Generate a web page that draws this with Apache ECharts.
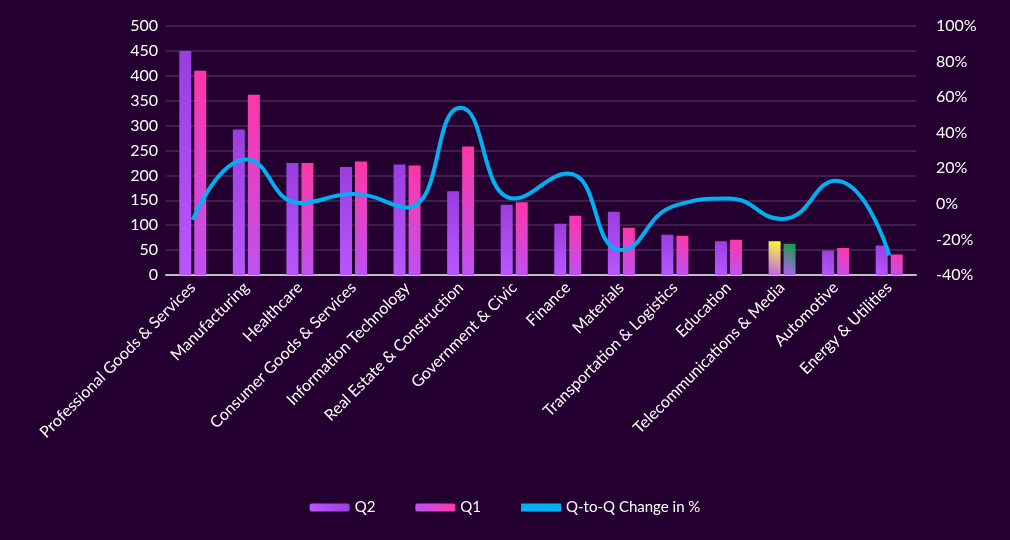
<!DOCTYPE html>
<html><head><meta charset="utf-8">
<script src="https://cdn.jsdelivr.net/npm/echarts@6/dist/echarts.min.js"></script>
<style>html,body{margin:0;background:#240030}#c{width:1010px;height:540px}</style>
</head><body><div id="c"></div>
<script>
var categories = ["Professional Goods & Services","Manufacturing","Healthcare","Consumer Goods & Services","Information Technology","Real Estate & Construction","Government & Civic","Finance","Materials","Transportation & Logistics","Education","Telecommunications & Media","Automotive","Energy & Utilities"];
var q2 = [450, 292, 225, 217, 222, 168, 141, 103, 127, 81, 68, 68, 49, 59];
var q1 = [410, 362, 225, 228, 220, 258, 146, 119, 95, 79, 71, 63, 54, 41];
var change = [-9, 25, 0.5, 5.5, -2, 54, 3, 17, -26, -1, 3, -8.5, 13, -29];

function grad(top, bottom) {
  return new echarts.graphic.LinearGradient(1, 0, 0, 1, [{offset: 0, color: top}, {offset: 1, color: bottom}]);
}
var q2Color = grad("#9a3ddf", "#b957ff");
var q1Color = grad("#ff36a6", "#bd52f2");
var telecomIdx = categories.indexOf("Telecommunications & Media");
var q2Data = q2.map(function (v, i) {
  return i === telecomIdx ? {value: v, itemStyle: {color: grad("#ffff30", "#c060f0")}} : v;
});
var q1Data = q1.map(function (v, i) {
  return i === telecomIdx ? {value: v, itemStyle: {color: grad("#10a040", "#b060f0")}} : v;
});

var txt = {color: "#ffffff", fontFamily: "Lato", fontSize: 16};
var chart = echarts.init(document.getElementById("c"));
chart.setOption({
  backgroundColor: "#240030",
  textStyle: {fontFamily: "Lato"},
  grid: {left: 166, right: 94, top: 26, bottom: 265},
  legend: {
    bottom: 20, itemGap: 40, itemWidth: 40, itemHeight: 8,
    textStyle: {color: "#ffffff", fontSize: 15, fontFamily: "Lato"},
    data: ["Q2", "Q1", {name: "Q-to-Q Change in %", icon: "rect", itemStyle: {color: "#00b0f0"}}]
  },
  xAxis: {
    type: "category", data: categories,
    axisLine: {lineStyle: {color: "#bfbfbf", width: 2}},
    axisTick: {show: false},
    axisLabel: Object.assign({rotate: 45, interval: 0, margin: 10}, txt)
  },
  yAxis: [
    {type: "value", min: 0, max: 500, interval: 50,
     axisLabel: txt, axisLine: {show: false}, axisTick: {show: false},
     splitLine: {lineStyle: {color: "#4a2a58", width: 1.5}}},
    {type: "value", min: -40, max: 100, interval: 20,
     axisLabel: Object.assign({formatter: "{value}%", margin: 20}, txt),
     axisLine: {show: false}, axisTick: {show: false}, splitLine: {show: false}}
  ],
  series: [
    {name: "Q2", type: "bar", data: q2Data, barWidth: 12, barGap: "25%", itemStyle: {color: q2Color}},
    {name: "Q1", type: "bar", data: q1Data, barWidth: 12, itemStyle: {color: q1Color}},
    {name: "Q-to-Q Change in %", type: "line", yAxisIndex: 1, data: change, smooth: 0.5,
     symbol: "none", lineStyle: {color: "#00b0f0", width: 4}, itemStyle: {color: "#00b0f0"}}
  ]
});
</script></body></html>
